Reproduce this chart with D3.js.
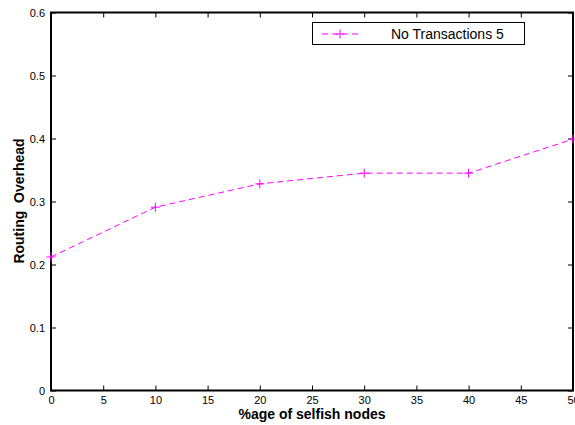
<!DOCTYPE html>
<html>
<head>
<meta charset="utf-8">
<script src="https://cdn.jsdelivr.net/npm/d3@7"></script>
<style>
  html, body { margin: 0; padding: 0; background: #fff; }
  svg { display: block; font-family: "Liberation Sans", Arial, Helvetica, sans-serif; }
</style>
</head>
<body>
<svg id="chart" width="575" height="425"></svg>
<script>
// Routing overhead versus share of selfish nodes
const selfishPct = [0, 10, 20, 30, 40, 50];
const overhead = [0.212, 0.291, 0.328, 0.345, 0.345, 0.399];
const xTicks = [0, 5, 10, 15, 20, 25, 30, 35, 40, 45, 50];
const yTicks = [0, 0.1, 0.2, 0.3, 0.4, 0.5, 0.6];
const seriesName = "No Transactions 5";

const svg = d3.select("#chart");
const plotLeft = 51, plotRight = 573, plotTop = 12.5, plotBottom = 390.5;

const x = d3.scaleLinear().domain([0, 50]).range([plotLeft, plotRight]);
const y = d3.scaleLinear().domain([0, 0.6]).range([plotBottom, plotTop]);
const color = "#ff00ff";

// Axes with inward ticks on all four sides
const tickLen = 5;
svg.append("g").attr("transform", `translate(0,${plotBottom})`)
  .call(d3.axisBottom(x).tickValues(xTicks).tickSizeInner(-tickLen).tickSizeOuter(0).tickPadding(6).tickFormat(d3.format("d")));
svg.append("g").attr("transform", `translate(0,${plotTop})`)
  .call(d3.axisTop(x).tickValues(xTicks).tickSizeInner(-tickLen).tickSizeOuter(0).tickFormat(""));
svg.append("g").attr("transform", `translate(${plotLeft},0)`)
  .call(d3.axisLeft(y).tickValues(yTicks).tickSizeInner(-tickLen).tickSizeOuter(0).tickPadding(6).tickFormat(d => d === 0 ? "0" : d3.format(".1f")(d)));
svg.append("g").attr("transform", `translate(${plotRight},0)`)
  .call(d3.axisRight(y).tickValues(yTicks).tickSizeInner(-tickLen).tickSizeOuter(0).tickFormat(""));

svg.selectAll(".domain").remove();
svg.selectAll(".tick line").attr("stroke", "#000").attr("stroke-width", 1);
svg.selectAll(".tick text").attr("font-size", 11).attr("fill", "#000")
  .attr("font-family", "'Liberation Sans', Arial, sans-serif");

// Plot frame
svg.append("rect")
  .attr("x", plotLeft).attr("y", plotTop)
  .attr("width", plotRight - plotLeft).attr("height", plotBottom - plotTop)
  .attr("fill", "none").attr("stroke", "#000").attr("stroke-width", 2);

// Series line
const line = d3.line().x((d, i) => x(selfishPct[i])).y(d => y(d));
svg.append("path")
  .datum(overhead)
  .attr("d", line)
  .attr("fill", "none")
  .attr("stroke", color)
  .attr("stroke-width", 1)
  .attr("stroke-dasharray", "6,4");

// Plus markers
const m = 4.5;
const markers = svg.append("g").attr("stroke", color).attr("stroke-width", 1);
overhead.forEach((v, i) => {
  const cx = x(selfishPct[i]), cy = y(v);
  markers.append("line").attr("x1", cx - m).attr("x2", cx + m).attr("y1", cy).attr("y2", cy);
  markers.append("line").attr("x1", cx).attr("x2", cx).attr("y1", cy - m).attr("y2", cy + m);
});

// Legend
const lg = svg.append("g");
lg.append("rect").attr("x", 312.5).attr("y", 22.5).attr("width", 212).attr("height", 22)
  .attr("fill", "#fff").attr("stroke", "#000").attr("stroke-width", 1);
lg.append("line").attr("x1", 322).attr("x2", 358).attr("y1", 34).attr("y2", 34)
  .attr("stroke", color).attr("stroke-dasharray", "6,4");
lg.append("line").attr("x1", 340 - m).attr("x2", 340 + m).attr("y1", 34).attr("y2", 34).attr("stroke", color);
lg.append("line").attr("x1", 340).attr("x2", 340).attr("y1", 34 - m).attr("y2", 34 + m).attr("stroke", color);
lg.append("text").attr("x", 391).attr("y", 39).attr("font-size", 14).text(seriesName);

// Axis titles
svg.append("text").attr("x", 312).attr("y", 419).attr("text-anchor", "middle")
  .attr("font-size", 14).attr("font-weight", "bold").text("%age of selfish nodes");
svg.append("text").attr("transform", "translate(24,201) rotate(-90)").attr("text-anchor", "middle")
  .attr("font-size", 14).attr("font-weight", "bold")
  .style("white-space", "pre").text("Routing  Overhead");
</script>
</body>
</html>
